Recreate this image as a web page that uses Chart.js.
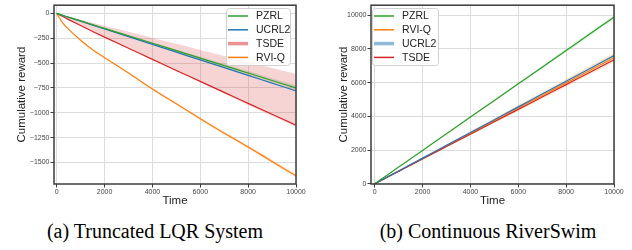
<!DOCTYPE html>
<html>
<head>
<meta charset="utf-8">
<script src="https://cdn.jsdelivr.net/npm/chart.js@4.4.0/dist/chart.umd.min.js"></script>
<style>
  body { margin: 0; background: #fff; width: 632px; height: 250px; position: relative; overflow: hidden; }
  canvas { position: absolute; top: 0; }
  #lqrChart { left: 0; }
  #riverChart { left: 316px; }
  .caption { position: absolute; top: 220px; width: 316px; text-align: center;
             font-family: "Liberation Serif", "Times New Roman", serif; font-size: 20px; color: #000; }
</style>
</head>
<body>
<canvas id="lqrChart" width="316" height="210"></canvas>
<canvas id="riverChart" width="316" height="210"></canvas>
<div class="caption" style="left:-3px">(a) Truncated LQR System</div>
<div class="caption" style="left:330px">(b) Continuous RiverSwim</div>
<script>
// time steps shared by every series
const timeSteps = [0, 250, 500, 1000, 1500, 2000, 3000, 4000, 5000, 6000, 7000, 8000, 9000, 10000];
const xTicks = [0, 2000, 4000, 6000, 8000, 10000];

// (a) Truncated LQR
const lqrPzrl    = [0, -19, -38, -75, -113, -150, -225, -300, -375, -450, -525, -600, -675, -750];
const lqrPzrlHi  = [0, -18, -36, -72, -109, -145, -217, -290, -362, -435, -507, -580, -652, -725];
const lqrPzrlLo  = [0, -19, -39, -77, -116, -154, -231, -308, -385, -462, -539, -616, -693, -770];
const lqrUcrl    = [0, -20, -39, -78, -117, -156, -234, -312, -390, -468, -546, -624, -702, -780];
const lqrTsde    = [0, -31, -62, -122, -181, -238, -350, -462, -574, -684, -795, -905, -1015, -1125];
const lqrTsdeHi  = [0, -16, -32, -63, -93, -124, -185, -246, -306, -367, -428, -489, -550, -610];
const lqrTsdeLo  = [0, -31, -63, -124, -184, -242, -356, -470, -584, -696, -809, -921, -1033, -1140];
const lqrRviq    = [0, -95, -160, -270, -365, -445, -600, -760, -910, -1060, -1205, -1345, -1490, -1635];
const lqrRviqHi  = [0, -93, -157, -266, -360, -439, -593, -751, -900, -1048, -1192, -1330, -1474, -1617];
const lqrRviqLo  = [0, -97, -163, -274, -370, -451, -607, -769, -920, -1072, -1218, -1360, -1506, -1653];
const lqrYTicks  = [-1500, -1250, -1000, -750, -500, -250, 0];

// (b) Continuous RiverSwim
const rivPzrl    = [0, 247, 494, 988, 1482, 1976, 2964, 3952, 4940, 5928, 6916, 7904, 8892, 9880];
const rivPzrlHi  = [0, 250, 500, 1000, 1500, 2000, 3000, 4000, 5000, 6000, 7000, 8000, 9000, 10000];
const rivPzrlLo  = [0, 244, 488, 976, 1464, 1952, 2928, 3904, 4880, 5856, 6832, 7808, 8784, 9760];
const rivRviq    = [0, 187, 374, 748, 1122, 1496, 2244, 2992, 3740, 4488, 5236, 5984, 6732, 7480];
const rivRviqHi  = [0, 194, 389, 777, 1166, 1555, 2332, 3110, 3887, 4665, 5442, 6220, 6997, 7775];
const rivRviqLo  = [0, 180, 360, 720, 1080, 1440, 2160, 2880, 3600, 4320, 5040, 5760, 6480, 7200];
const rivUcrl    = [0, 190, 380, 760, 1140, 1520, 2280, 3040, 3800, 4560, 5320, 6080, 6840, 7600];
const rivTsde    = [0, 184, 368, 735, 1103, 1470, 2205, 2940, 3675, 4410, 5145, 5880, 6615, 7350];
const rivYTicks  = [0, 2000, 4000, 6000, 8000, 10000];

const GREEN = '#2ca02c', BLUE = '#1f77b4', RED = '#d62728', ORANGE = '#ff7f0e';

function pts(vals) {
    return vals.map((v, i) => ({ x: timeSteps[i], y: v }));
}
function line(label, vals, color) {
    return { label: label, data: pts(vals), borderColor: color, borderWidth: 1.2,
             pointRadius: 0, fill: false, cubicInterpolationMode: 'monotone' };
}
function band(hi, lo, color) {
    return [
        { label: '', data: pts(hi), borderWidth: 0, pointRadius: 0, backgroundColor: color,
          fill: '+1', cubicInterpolationMode: 'monotone' },
        { label: '', data: pts(lo), borderWidth: 0, pointRadius: 0, fill: false,
          cubicInterpolationMode: 'monotone' }
    ];
}
function fmt(v) {
    return v < 0 ? '\u2212' + Math.abs(v) : String(v);
}

// frame around the plot + matplotlib style legend box
const framePlugin = {
    id: 'frameLegend',
    afterDatasetsDraw(chart, args, opts) {
        const ctx = chart.ctx, a = chart.chartArea;
        ctx.save();
        ctx.strokeStyle = '#3c3c3c';
        ctx.lineWidth = 1.5;
        ctx.strokeRect(a.left, a.top, a.right - a.left, a.bottom - a.top);

        const lg = opts.legend;
        if (lg) {
            ctx.beginPath();
            ctx.roundRect(lg.x + 0.5, lg.y + 0.5, lg.w, lg.h, 3);
            ctx.fillStyle = 'rgba(255,255,255,0.85)';
            ctx.fill();
            ctx.strokeStyle = '#d0d0d0';
            ctx.lineWidth = 1;
            ctx.stroke();
            ctx.font = '10.5px "Liberation Sans", Arial, sans-serif';
            ctx.textBaseline = 'middle';
            lg.items.forEach((it, i) => {
                const y = lg.y + 8 + i * 13.8;
                ctx.beginPath();
                ctx.strokeStyle = it.color;
                ctx.globalAlpha = it.thick ? 0.5 : 1;
                ctx.lineWidth = it.thick ? 3.5 : 1.5;
                ctx.moveTo(lg.x + 2, y);
                ctx.lineTo(lg.x + 22, y);
                ctx.stroke();
                ctx.globalAlpha = 1;
                ctx.fillStyle = '#222';
                ctx.fillText(it.label, lg.x + 30, y + 0.5);
            });
        }
        ctx.restore();
    }
};

function makeChart(id, datasets, yMin, yMax, xMin, yTicks, yWidth, yTitlePad, rightPad, legend) {
    const tickFont = { family: '"Liberation Sans", Arial, sans-serif', size: 7 };
    const titleFont = { family: '"Liberation Sans", Arial, sans-serif', size: 11.5 };
    return new Chart(document.getElementById(id), {
        type: 'line',
        data: { datasets: datasets },
        options: {
            responsive: false,
            animation: false,
            devicePixelRatio: 1,
            layout: { padding: { top: 4, right: rightPad, left: 0, bottom: 0 } },
            plugins: { legend: { display: false }, tooltip: { enabled: false },
                       frameLegend: { legend: legend } },
            scales: {
                x: {
                    type: 'linear', min: xMin, max: 10000,
                    afterBuildTicks: s => { s.ticks = xTicks.map(v => ({ value: v })); },
                    afterFit: s => { s.height = 26; },
                    grid: { color: '#dcdcdc', lineWidth: 1, tickColor: '#3c3c3c', tickLength: 3.5 },
                    border: { display: false },
                    ticks: { font: tickFont, color: '#444', padding: 0, maxRotation: 0,
                             callback: v => fmt(v) },
                    title: { display: true, text: 'Time', font: titleFont, color: '#222',
                             padding: { top: 0, bottom: 2 } }
                },
                y: {
                    type: 'linear', min: yMin, max: yMax,
                    afterBuildTicks: s => { s.ticks = yTicks.map(v => ({ value: v })); },
                    afterFit: s => { s.width = yWidth; },
                    grid: { color: '#dcdcdc', lineWidth: 1, tickColor: '#3c3c3c', tickLength: 3.5 },
                    border: { display: false },
                    ticks: { font: tickFont, color: '#444', padding: 1, callback: v => fmt(v) },
                    title: { display: true, text: 'Cumulative reward', font: titleFont, color: '#222',
                             padding: { top: yTitlePad, bottom: 0 } }
                }
            }
        },
        plugins: [framePlugin]
    });
}

makeChart('lqrChart', [
    line('PZRL', lqrPzrl, GREEN),
    line('UCRL2', lqrUcrl, BLUE),
    line('TSDE', lqrTsde, RED),
    line('RVI-Q', lqrRviq, ORANGE),
    ...band(lqrTsdeHi, lqrTsdeLo, 'rgba(214,39,40,0.2)'),
    ...band(lqrPzrlHi, lqrPzrlLo, 'rgba(44,160,44,0.2)'),
    ...band(lqrRviqHi, lqrRviqLo, 'rgba(255,127,14,0.2)')
], -1717, 83, -113, lqrYTicks, 54, 15, 20, {
    x: 226, y: 8, w: 64, h: 57,
    items: [{ label: 'PZRL', color: GREEN }, { label: 'UCRL2', color: BLUE },
            { label: 'TSDE', color: RED, thick: true }, { label: 'RVI-Q', color: ORANGE }]
});

makeChart('riverChart', [
    line('PZRL', rivPzrl, GREEN),
    line('UCRL2', rivUcrl, BLUE),
    line('TSDE', rivTsde, RED),
    line('RVI-Q', rivRviq, ORANGE),
    ...band(rivRviqHi, rivRviqLo, 'rgba(255,127,14,0.2)'),
    ...band(rivPzrlHi, rivPzrlLo, 'rgba(44,160,44,0.15)')
], -15, 10590, -155, rivYTicks, 55, 21, 18, {
    x: 56, y: 8, w: 66, h: 57,
    items: [{ label: 'PZRL', color: GREEN }, { label: 'RVI-Q', color: ORANGE },
            { label: 'UCRL2', color: BLUE, thick: true }, { label: 'TSDE', color: RED }]
});
</script>
</body>
</html>
